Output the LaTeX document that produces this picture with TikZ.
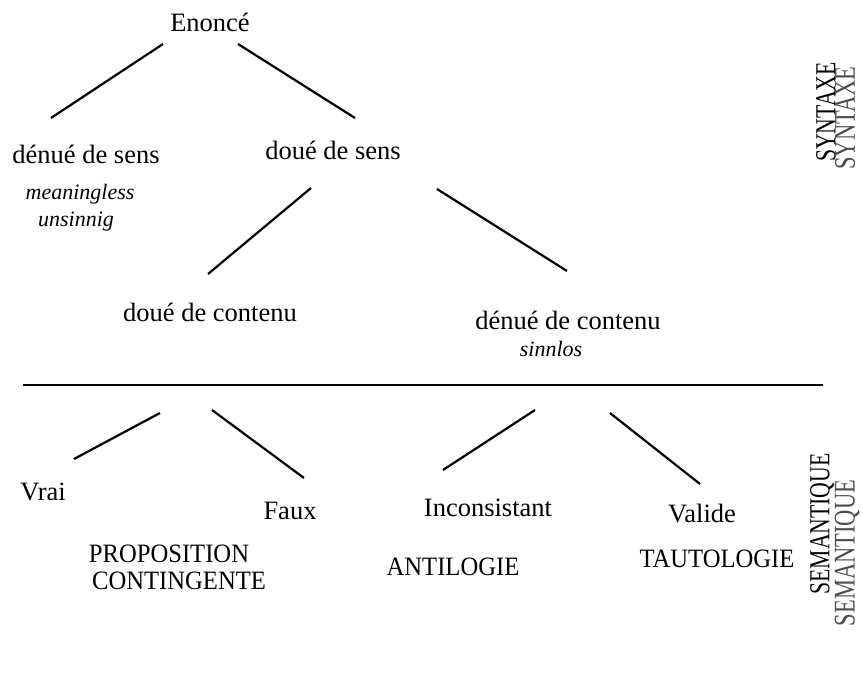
\documentclass[tikz,border=0pt]{standalone}
\usepackage{fontspec}
\setmainfont{Liberation Serif}
\newfontfamily\serifz{Liberation Serif}
\newcommand{\condtxt}[1]{\scalebox{0.93}[1]{#1}}
\begin{document}
\begin{tikzpicture}[x=1pt,y=-1pt,
  lbl/.style={anchor=base,inner sep=0pt,font=\serifz\fontsize{26.5}{30}\selectfont},
  caps/.style={anchor=base,inner sep=0pt,font=\serifz\fontsize{26.5}{30}\selectfont},
  itl/.style={anchor=base,inner sep=0pt,font=\serifz\fontsize{22}{26}\selectfont\itshape},
  edge/.style={line width=2.2pt},
  side/.style={rotate=90,inner sep=0pt,font=\serifz\fontsize{29}{30}\selectfont},
  sidetwo/.style={rotate=90,inner sep=0pt,font=\serifz\fontsize{30}{30}\selectfont,text=black!70}]
\useasboundingbox (0,0) rectangle (863,677);
% nodes
\node[lbl] (enonce) at (210,32) {Enoncé};
\node[lbl] (ds) at (86,164) {dénué de sens};
\node[itl] (mean) at (80,199) {meaningless};
\node[itl] (uns) at (76,226) {unsinnig};
\node[lbl] (dos) at (333,159) {doué de sens};
\node[lbl] (dc) at (210,321) {doué de contenu};
\node[lbl] (ddc) at (568,329) {dénué de contenu};
\node[itl] (sinn) at (551,356) {sinnlos};
\node[lbl] (vrai) at (43,500) {Vrai};
\node[lbl] (faux) at (290,519) {Faux};
\node[lbl] (incons) at (488,516) {Inconsistant};
\node[lbl] (valide) at (702,522) {Valide};
\node[caps] (prop) at (169,562) {\condtxt{PROPOSITION}};
\node[caps] (cont) at (179,589) {\condtxt{CONTINGENTE}};
\node[caps] (anti) at (453,575) {\condtxt{ANTILOGIE}};
\node[caps] (taut) at (717,567) {\condtxt{TAUTOLOGIE}};
\node[side] (syn) at (826,112) {\scalebox{0.75}[1]{SYNTAXE}};
\node[sidetwo] (syn2) at (845,118) {\scalebox{0.75}[1]{SYNTAXE}};
\node[side] (sem) at (822,524) {\scalebox{0.75}[1]{SEMANTIQUE}};
\node[sidetwo] (sem2) at (847,553) {\scalebox{0.75}[1]{SEMANTIQUE}};
% connector end points
\coordinate (e1) at (163,44); \coordinate (e2) at (51,118);
\coordinate (e3) at (238,44); \coordinate (e4) at (355,118);
\coordinate (s1) at (311,188); \coordinate (s2) at (208,274);
\coordinate (s3) at (437,189); \coordinate (s4) at (567,271);
\coordinate (h1) at (23,385); \coordinate (h2) at (823,385);
\coordinate (v1) at (160,413); \coordinate (v2) at (74,459);
\coordinate (f1) at (212,410); \coordinate (f2) at (304,478);
\coordinate (i1) at (535,410); \coordinate (i2) at (443,470);
\coordinate (t1) at (610,413); \coordinate (t2) at (700,484);
\draw[edge] (e1) -- (e2);
\draw[edge] (e3) -- (e4);
\draw[edge] (s1) -- (s2);
\draw[edge] (s3) -- (s4);
\draw[edge] (h1) -- (h2);
\draw[edge] (v1) -- (v2);
\draw[edge] (f1) -- (f2);
\draw[edge] (i1) -- (i2);
\draw[edge] (t1) -- (t2);
\end{tikzpicture}
\end{document}
